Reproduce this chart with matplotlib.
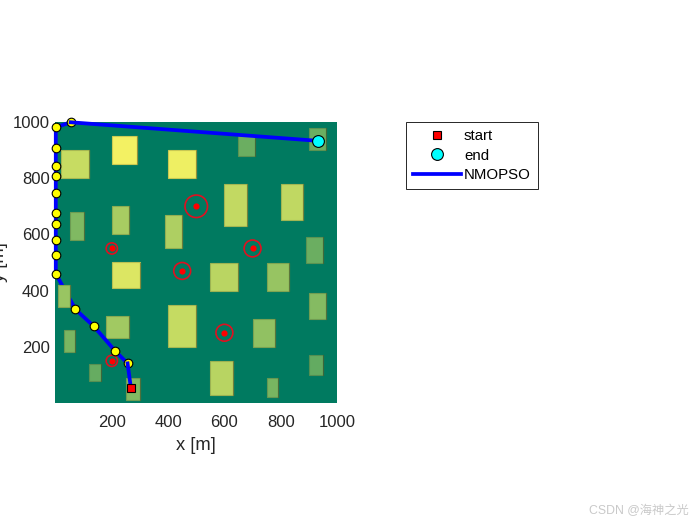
import matplotlib
matplotlib.use('Agg')
import matplotlib.pyplot as plt
from matplotlib.colors import LinearSegmentedColormap
from matplotlib.patches import Rectangle, Circle
from matplotlib.lines import Line2D

plt.rcParams['font.family'] = ['Liberation Sans', 'Noto Sans CJK SC', 'DejaVu Sans']

# buildings: left, bottom, width, depth, height (from the colours)
bld_x = [20, 200, 400, 50, 200, 390, 650, 900, 600, 800, 890, 200, 10, 180, 30, 120, 250, 400, 550, 750, 900, 700, 900, 550, 750]
bld_y = [800, 850, 800, 580, 600, 550, 880, 900, 630, 650, 500, 410, 340, 230, 180, 80, 10, 200, 400, 400, 300, 200, 100, 30, 20]
bld_w = [100, 90, 100, 50, 60, 60, 60, 60, 80, 80, 60, 100, 40, 80, 40, 40, 50, 100, 100, 80, 60, 80, 50, 80, 40]
bld_d = [100, 100, 100, 100, 100, 120, 70, 80, 150, 130, 90, 90, 80, 80, 80, 60, 80, 150, 100, 100, 90, 100, 70, 120, 70]
bld_h = [78, 95, 93, 50, 66, 68, 42, 42, 76, 75, 42, 86, 60, 63, 48, 40, 51, 77, 73, 59, 52, 57, 39, 72, 47]

# threats
thr_x = [200, 500, 700, 450, 600, 200]
thr_y = [550, 700, 550, 470, 250, 150]
thr_r = [20, 40, 30, 30, 30, 20]

# path from start to end
path_x = [268, 256, 213, 136, 71, 1, 1, 1, 1, 1, 1, 1, 1, 1, 1, 54, 932]
path_y = [52, 141, 184, 273, 333, 460, 527, 580, 636, 677, 748, 809, 842, 906, 981, 999, 933]

# this building hides the path
over_path = 12

fig = plt.figure(figsize=(7, 5.25), dpi=100)
ax = fig.add_axes([55.5 / 700, 122 / 525, 281.5 / 700, 281 / 525])
ax.set_xlim(0, 1000)
ax.set_ylim(0, 1000)
ax.set_facecolor('#007A60')
cmap = LinearSegmentedColormap.from_list('terrain_top', ['#007A60', '#FFF763'])

for i in range(len(bld_x)):
    col = cmap(bld_h[i] / 100)
    edge = tuple(c * 0.84 for c in col[:3])
    side = tuple(c * 0.6 for c in col[:3])
    z = 3.5 if i == over_path else 1
    ax.add_patch(Rectangle((bld_x[i], bld_y[i]), bld_w[i], bld_d[i], facecolor=col,
                           edgecolor=edge, linewidth=0.8, zorder=z))
    right = bld_x[i] + bld_w[i]
    ax.plot([right, right], [bld_y[i], bld_y[i] + bld_d[i]], color=side, linewidth=0.8, zorder=z)

for i in range(len(thr_x)):
    ax.add_patch(Circle((thr_x[i], thr_y[i]), thr_r[i], fill=False, edgecolor='#E01020',
                        linewidth=1.2, zorder=2))
ax.plot(thr_x, thr_y, 'o', color='#FF0000', markersize=4.5, markeredgewidth=0, zorder=2)

# path: the middle runs under the waypoints, the first and last legs over them
ax.plot(path_x[1:-1], path_y[1:-1], '-', color='#0000FF', linewidth=2.7, zorder=3, clip_on=False)
ax.plot(path_x[:2], path_y[:2], '-', color='#0000FF', linewidth=2.7, zorder=5.5, clip_on=False)
ax.plot(path_x[-2:], path_y[-2:], '-', color='#0000FF', linewidth=2.7, zorder=5.5, clip_on=False)
ax.plot(path_x[1:-1], path_y[1:-1], 'o', markerfacecolor='#FFFF00', markeredgecolor='k',
        markersize=6.2, markeredgewidth=0.8, zorder=5, clip_on=False)
ax.plot(path_x[0], path_y[0], 's', markerfacecolor='#FF0000', markeredgecolor='k',
        markersize=6.2, markeredgewidth=0.8, zorder=6)
ax.plot(path_x[-1], path_y[-1], 'o', markerfacecolor='#00FFFF', markeredgecolor='k',
        markersize=8.5, markeredgewidth=0.8, zorder=6)

ax.set_xticks([200, 400, 600, 800, 1000])
ax.set_yticks([200, 400, 600, 800, 1000])
ax.tick_params(length=0, labelsize=12, labelcolor='#262626')
ax.tick_params(axis='x', pad=8.5)
ax.tick_params(axis='y', pad=4.3)
for s in ax.spines.values():
    s.set_visible(False)
ax.set_xlabel('x [m]', fontsize=13.2, color='#262626', labelpad=5)
ax.set_ylabel('y [m]', fontsize=13.2, color='#262626')
ax.yaxis.set_label_coords(-0.167, 0.5)

handles = [
    Line2D([], [], linestyle='none', marker='s', markerfacecolor='#FF0000', markeredgecolor='k',
           markersize=6.2, markeredgewidth=0.8),
    Line2D([], [], linestyle='none', marker='o', markerfacecolor='#00FFFF', markeredgecolor='k',
           markersize=8.5, markeredgewidth=0.8),
    Line2D([], [], color='#0000FF', linewidth=2.7),
]
leg = fig.legend(handles, ['start', 'end', 'NMOPSO'], loc='upper left',
                 bbox_to_anchor=(406 / 700, 1 - 122 / 525), fontsize=10.8,
                 fancybox=False, framealpha=1, edgecolor='#262626', borderaxespad=0,
                 handlelength=3.2, handletextpad=0.2, labelspacing=0.38,
                 borderpad=0.46)
leg.get_frame().set_linewidth(0.7)

fig.text(689 / 700, 1 - 511 / 525, 'CSDN @海神之光', fontsize=8.8, color='#C9C9C9',
         ha='right', va='center')

fig.savefig('out.png', dpi=100)
plt.close(fig)
